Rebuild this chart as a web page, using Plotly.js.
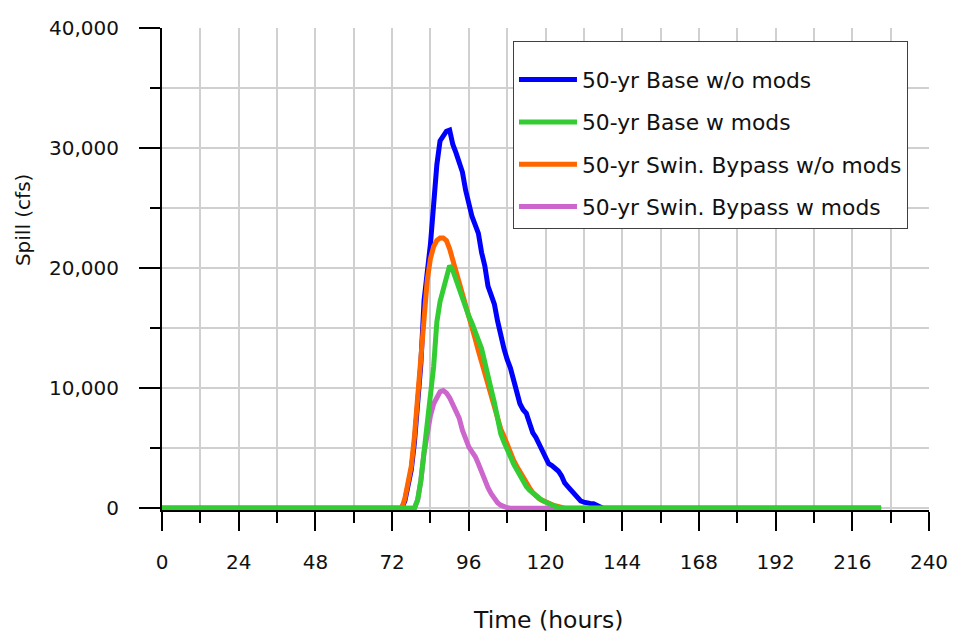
<!DOCTYPE html>
<html>
<head>
<meta charset="utf-8">
<script src="https://cdn.plot.ly/plotly-3.0.1.min.js"></script>
<style>
html,body{margin:0;padding:0;background:#fff;}
#chart{width:955px;height:641px;}
</style>
</head>
<body>
<div id="chart"></div>
<script>
// ---- Data (hours, spill in cfs) ----
const seriesNames = ["50-yr Base w/o mods", "50-yr Base w mods", "50-yr Swin. Bypass w/o mods", "50-yr Swin. Bypass w mods"];

const baseNoModsHours = [0,75,76,77,78,79,80,81,82,83,84,85,86,87,88,89,90,91,92,93,94,95,96,97,98,99,100,101,102,103,104,105,106,107,108,109,110,111,112,113,114,115,116,117,118,119,120,121,122,123,124,125,126,127,128,129,130,131,132,133,134,135,136,137,138,225];
const baseNoModsSpill = [0,0,600,2000,3200,5500,8500,12000,17300,19300,22000,25300,28600,30600,31000,31400,31500,30300,29600,28900,28000,26500,25300,24300,23600,22900,21300,20200,18500,17600,17000,15600,14300,13300,12400,11700,10700,9600,8700,8200,7900,7100,6300,5900,5400,4900,4200,3700,3550,3300,3100,2700,2100,1800,1500,1200,900,600,500,420,400,380,250,100,0,0];

const baseModsHours = [0,79,80,81,82,83,84,85,86,87,88,89,90,91,92,93,94,95,96,97,98,99,100,101,102,103,104,105,106,107,108,109,110,111,112,113,114,115,116,117,118,119,120,121,122,123,124,125,225];
const baseModsSpill = [0,0,700,2300,4700,6800,9000,11800,15500,17200,18200,19300,20200,19800,19000,18500,17700,16700,16000,15400,14800,14000,13300,12000,10800,9900,8800,7300,6200,5500,5000,4300,3700,3200,2600,2100,1800,1500,1250,1050,850,650,500,350,250,150,60,0,0];

const bypassNoModsHours = [0,75,76,77,78,79,80,81,82,83,84,85,86,87,88,89,90,91,92,93,94,95,96,97,98,99,100,101,102,103,104,105,106,107,108,109,110,111,112,113,114,115,116,117,118,119,120,121,122,123,124,125,126,225];
const bypassNoModsSpill = [0,0,800,2200,3500,6000,9500,12500,16800,19000,20800,21800,22300,22500,22500,22300,21600,20700,19800,18700,17800,16800,15900,15200,14100,13100,12200,11000,10200,9300,8500,7500,6600,6000,5300,4600,4000,3500,3000,2500,2100,1700,1300,1000,800,650,500,400,300,200,120,60,0,0];

const bypassModsHours = [0,79,80,81,82,83,84,85,86,87,88,89,90,91,92,93,94,95,96,97,98,99,100,101,102,103,104,105,106,107,108,109,225];
const bypassModsSpill = [0,0,700,2300,4600,6300,7700,8700,9300,9700,9800,9600,9200,8600,8000,7500,6500,5700,5100,4700,4300,3700,3000,2400,1700,1200,750,450,250,120,40,0,0];

const xTickVals = [0,24,48,72,96,120,144,168,192,216,240];
const yTickVals = [0,10000,20000,30000,40000];

// ---- Styling ----
const FONT = "DejaVu Sans";
const TXT = "#111111";
const GRID = "#d0d0d0";
const LW = 5;

function tr(x, y, name, color, rank) {
  return {
    type: "scatter", mode: "lines", x: x, y: y, name: name,
    line: {color: color, width: LW, shape: "linear"},
    legendrank: rank, legendgroup: "g" + rank, hoverinfo: "skip"
  };
}

const data = [
  tr(baseNoModsHours, baseNoModsSpill, seriesNames[0], "#0000ff", 1),
  tr(bypassNoModsHours, bypassNoModsSpill, seriesNames[2], "#ff6600", 3),
  tr(bypassModsHours, bypassModsSpill, seriesNames[3], "#cc66cc", 4),
  tr(baseModsHours, baseModsSpill, seriesNames[1], "#33cc33", 2)
];

const layout = {
  width: 955, height: 641,
  margin: {l: 162, r: 26, t: 28, b: 131.2, pad: 0},
  paper_bgcolor: "#ffffff", plot_bgcolor: "#ffffff",
  font: {family: FONT, color: TXT, size: 20},
  showlegend: true,
  legend: {
    x: 0.4576, y: 0.973, xanchor: "left", yanchor: "top",
    bgcolor: "#ffffff", bordercolor: "#404040", borderwidth: 1,
    font: {family: FONT, size: 21.8, color: TXT},
    tracegroupgap: 11, itemwidth: 58, traceorder: "grouped",
    title: {text: " ", font: {size: 13}}
  },
  xaxis: {
    range: [0, 240], tickvals: xTickVals, ticktext: xTickVals.map(String),
    ticks: "outside", ticklen: 19, tickwidth: 2, tickcolor: "#000",
    showline: true, linecolor: "#000", linewidth: 2,
    showgrid: true, gridcolor: GRID, gridwidth: 2, zeroline: false,
    minor: {dtick: 12, tick0: 0, ticks: "outside", ticklen: 11, tickwidth: 2, tickcolor: "#000", showgrid: true, gridcolor: GRID, gridwidth: 2},
    tickfont: {family: FONT, size: 20, color: TXT},
    ticklabelstandoff: 14,
    layer: "below traces", fixedrange: true
  },
  xaxis2: {
    overlaying: "x", side: "top", range: [0, 240], tickvals: xTickVals,
    showticklabels: false, ticks: "outside", ticklen: 22, tickwidth: 2, tickcolor: "#000",
    showline: true, linecolor: "#000", linewidth: 2, showgrid: false, zeroline: false,
    minor: {dtick: 12, tick0: 0, ticks: "outside", ticklen: 11, tickwidth: 2, tickcolor: "#000", showgrid: false},
    layer: "below traces", fixedrange: true
  },
  yaxis: {
    range: [-150, 40000], tickvals: yTickVals, tickformat: ",",
    ticks: "outside", ticklen: 21, tickwidth: 2, tickcolor: "#000",
    showline: true, linecolor: "#000", linewidth: 2,
    showgrid: true, gridcolor: GRID, gridwidth: 2, zeroline: false,
    minor: {dtick: 5000, tick0: 0, ticks: "outside", ticklen: 10, tickwidth: 2, tickcolor: "#000", showgrid: true, gridcolor: GRID, gridwidth: 2},
    tickfont: {family: FONT, size: 20, color: TXT},
    ticklabelstandoff: 16,
    layer: "below traces", fixedrange: true
  },
  yaxis2: {
    overlaying: "y", side: "right", range: [-0.0225, 6], tickvals: [0, 2, 4, 6],
    showticklabels: false, ticks: "outside", ticklen: 21, tickwidth: 2, tickcolor: "#000",
    showline: true, linecolor: "#000", linewidth: 2, showgrid: false, zeroline: false,
    minor: {dtick: 1, tick0: 0, ticks: "outside", ticklen: 11, tickwidth: 2, tickcolor: "#000", showgrid: false},
    layer: "below traces", fixedrange: true
  },
  annotations: [
    {text: "Time (hours)", xref: "paper", yref: "paper", x: 0.503, y: -0.2287,
     xanchor: "center", yanchor: "middle", showarrow: false,
     font: {family: FONT, size: 23.5, color: TXT}},
    {text: "Spill (cfs)", xref: "paper", yref: "paper", x: -0.1812, y: 0.6015,
     xanchor: "center", yanchor: "middle", showarrow: false, textangle: -90,
     font: {family: FONT, size: 20, color: TXT}}
  ]
};

Plotly.newPlot("chart", data, layout, {staticPlot: true, displayModeBar: false});
</script>
</body>
</html>
